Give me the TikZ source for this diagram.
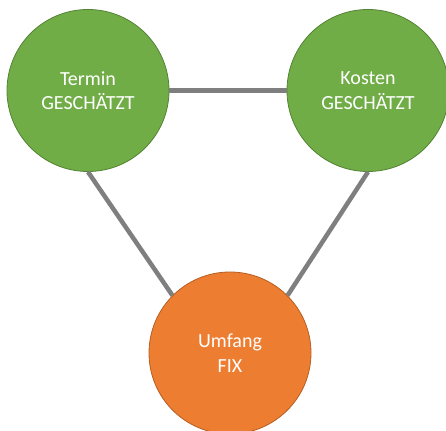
\documentclass[tikz,border=0pt]{standalone}
\usepackage{fontspec}
\setmainfont{Carlito}
\definecolor{gfill}{HTML}{70AD47}
\definecolor{gedge}{HTML}{548235}
\definecolor{ofill}{HTML}{ED7D31}
\definecolor{oedge}{HTML}{B55E22}
\definecolor{link}{HTML}{7F7F7F}
\begin{document}
\begin{tikzpicture}[x=1pt,y=1pt,
  ball/.style={circle, minimum size=162pt, inner sep=0pt, line width=0.8pt,
    align=center, text=white, font=\fontsize{20}{24.5}\selectfont},
  greenball/.style={ball, fill=gfill, draw=gedge},
  orangeball/.style={ball, fill=ofill, draw=oedge},
  tie/.style={draw=link, line width=4.5pt}]
\useasboundingbox (0,0) rectangle (446,430);
\node[greenball] (T) at (88,339.5) {Termin\\GESCHÄTZT};
\node[greenball] (K) at (368,339.5) {Kosten\\GESCHÄTZT};
\node[orangeball] (U) at (230,77) {Umfang\\FIX};
\draw[tie] (T.east) -- (K.west);
\draw[tie] (T.south) -- (U.135);
\draw[tie] (K.south) -- (U.45);
\end{tikzpicture}
\end{document}
